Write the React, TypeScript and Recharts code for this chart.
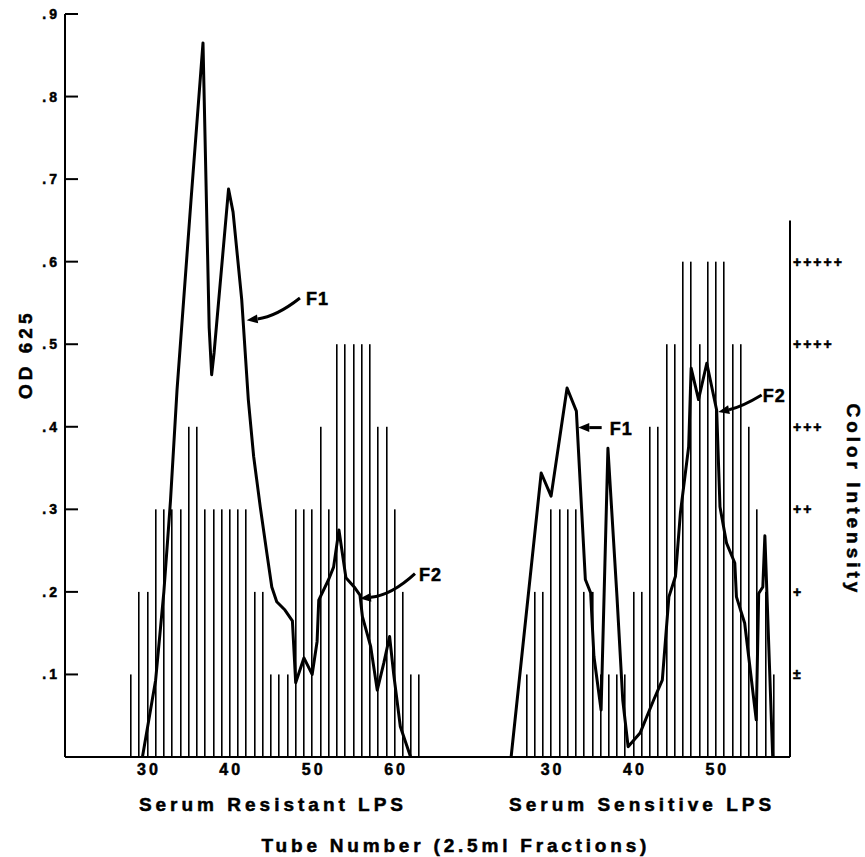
import React from 'react';
import { ComposedChart, Bar, Line, XAxis, YAxis, ReferenceLine } from 'recharts';

const FONT = '"Liberation Sans", Arial, Helvetica, sans-serif';
// right panel tubes are drawn shifted along the shared axis
const PANEL_OFFSET = 49;
const X_DOMAIN = [20, 108];

// colour intensity per tube (1 = ±, 6 = +++++)
const resistantTubes = [28, 29, 30, 31, 32, 33, 34, 35, 36, 37, 38, 39, 40, 41, 42, 43, 44, 45, 46, 47, 48, 49, 50, 51, 52, 53, 54, 55, 56, 57, 58, 59, 60, 61, 62, 63];
const resistantColor = [1, 2, 2, 3, 3, 3, 3, 4, 4, 3, 3, 3, 3, 3, 3, 2, 2, 1, 1, 1, 3, 3, 3, 4, 3, 5, 5, 5, 5, 5, 4, 4, 3, 2, 1, 1];

const sensitiveTubes = [27, 28, 29, 30, 31, 32, 33, 34, 35, 36, 37, 38, 39, 40, 41, 42, 43, 44, 45, 46, 47, 48, 49, 50, 51, 52, 53, 54, 55, 56, 57];
const sensitiveColor = [1, 2, 2, 3, 3, 3, 3, 2, 2, 1, 1, 1, 1, 2, 2, 4, 4, 5, 5, 6, 6, 5, 6, 6, 6, 5, 5, 4, 3, 2, 1];

// OD 625 traces
const resistantOdTube = [29.4, 31.0, 32.0, 32.8, 33.6, 35.3, 36.75, 37.5, 37.8, 38.1, 39.85, 40.4, 41.45, 42.25, 42.9, 43.7, 44.5, 45.1, 45.7, 46.7, 47.6, 48.0, 49.0, 50.0, 50.6, 50.8, 52.0, 52.6, 53.25, 54.1, 55.1, 55.8, 56.1, 57.1, 57.9, 58.7, 59.4, 59.9, 60.7, 61.95];
const resistantOd = [0, 0.093, 0.2, 0.31, 0.445, 0.675, 0.865, 0.52, 0.463, 0.49, 0.688, 0.66, 0.554, 0.433, 0.364, 0.303, 0.247, 0.206, 0.188, 0.178, 0.165, 0.09, 0.12, 0.1, 0.14, 0.19, 0.215, 0.23, 0.275, 0.217, 0.206, 0.196, 0.17, 0.134, 0.081, 0.114, 0.146, 0.1, 0.037, 0];

const sensitiveOdTube = [25.15, 28.8, 30.0, 31.94, 33.07, 34.16, 34.8, 35.2, 36.07, 36.9, 38.0, 38.7, 39.35, 40.8, 42.45, 43.5, 44.3, 45.1, 45.7, 46.7, 47.0, 47.9, 48.9, 50.1, 50.5, 51.3, 52.3, 52.5, 53.5, 54.9, 55.2, 55.7, 55.95, 56.9];
const sensitiveOd = [0, 0.344, 0.316, 0.447, 0.419, 0.215, 0.199, 0.122, 0.057, 0.374, 0.194, 0.069, 0.0125, 0.029, 0.069, 0.093, 0.194, 0.219, 0.296, 0.376, 0.471, 0.433, 0.477, 0.42, 0.303, 0.259, 0.235, 0.194, 0.162, 0.045, 0.198, 0.206, 0.268, 0];

const odTicks = [0.1, 0.2, 0.3, 0.4, 0.5, 0.6, 0.7, 0.8, 0.9];
const colorTicks = [1, 2, 3, 4, 5, 6];
const colorLabels = ['±', '+', '++', '+++', '++++', '+++++'];
const resistantTicks = [30, 40, 50, 60];
const sensitiveTicks = [30, 40, 50];

const barData = [
  ...resistantTubes.map((t, i) => ({ x: t, ci: resistantColor[i] })),
  ...sensitiveTubes.map((t, i) => ({ x: t + PANEL_OFFSET, ci: sensitiveColor[i] })),
];
const resistantLine = resistantOdTube.map((t, i) => ({ x: t, od: resistantOd[i] }));
const sensitiveLine = sensitiveOdTube.map((t, i) => ({ x: t + PANEL_OFFSET, od: sensitiveOd[i] }));
const xTicks = [...resistantTicks, ...sensitiveTicks.map((t) => t + PANEL_OFFSET)];

const bold = { fontFamily: FONT, fontWeight: 'bold' as const, fill: '#000', stroke: '#000', strokeWidth: 0.5 };

const OdTick = (props: any) => {
  const { x, y, payload } = props;
  return (
    <g>
      <line x1={x + 5} x2={x + 18} y1={y} y2={y} stroke="#000" strokeWidth={2} />
      <text x={x} y={y} dy={5} textAnchor="end" fontSize={14} letterSpacing={3} {...bold}>
        {String(payload.value.toFixed(1)).replace('0.', '.')}
      </text>
    </g>
  );
};

const ColorTick = (props: any) => {
  const { x, y, payload } = props;
  return (
    <text x={x} y={y} dy={5} textAnchor="start" fontSize={14} letterSpacing={2} {...bold}>
      {colorLabels[payload.value - 1]}
    </text>
  );
};

const TubeTick = (props: any) => {
  const { x, y, payload } = props;
  const v = payload.value > 70 ? payload.value - PANEL_OFFSET : payload.value;
  return (
    <text x={x} y={y} dx={1.5} dy={18} textAnchor="middle" fontSize={16} letterSpacing={3} {...bold}>
      {v}
    </text>
  );
};

// thin dark rule for each tube's colour reading
const TubeRule = (props: any) => {
  const { x, y, width, height } = props;
  if (!height) return null;
  const cx = x + width / 2;
  return <rect x={Math.round(cx - 0.75)} y={y} width={1.6} height={height} fill="#000" />;
};

const OdTitle = (props: any) => {
  const vb = props.viewBox || { x: 0, y: 14, width: 65, height: 743 };
  const cx = vb.x + 25;
  const cy = vb.y + vb.height * 0.458;
  return (
    <text x={cx} y={cy} transform={`rotate(-90 ${cx} ${cy})`} textAnchor="middle" dy={7} fontSize={19} letterSpacing={4} {...bold}>
      OD 625
    </text>
  );
};

const ColorTitle = (props: any) => {
  const vb = props.viewBox || { x: 790, y: 14, width: 75, height: 743 };
  const cx = vb.x + 64;
  const cy = vb.y + vb.height * 0.654;
  return (
    <text x={cx} y={cy} transform={`rotate(90 ${cx} ${cy})`} textAnchor="middle" dy={7} fontSize={19} letterSpacing={4} {...bold}>
      Color Intensity
    </text>
  );
};

const TubeTitle = (props: any) => {
  const vb = props.viewBox || { x: 65, y: 757, width: 725, height: 100 };
  const px = (t: number) => vb.x + ((t - X_DOMAIN[0]) / (X_DOMAIN[1] - X_DOMAIN[0])) * vb.width;
  return (
    <g>
      <text x={px(45)} y={vb.y + 54} dx={2} textAnchor="middle" fontSize={19} letterSpacing={4} {...bold}>
        Serum Resistant LPS
      </text>
      <text x={px(40.8 + PANEL_OFFSET)} y={vb.y + 54} dx={2} textAnchor="middle" fontSize={19} letterSpacing={4} {...bold}>
        Serum Sensitive LPS
      </text>
      <text x={px(67.2)} y={vb.y + 95} dx={2} textAnchor="middle" fontSize={19} letterSpacing={3.8} {...bold}>
        Tube Number (2.5ml Fractions)
      </text>
    </g>
  );
};

// arrow drawn from the label point (x1,y1) to the tip (x2,y2)
const arrowShape = (label: string, bend: number, gap: number) => (props: any) => {
  const { x1, y1, x2, y2 } = props;
  const dx = x2 - x1;
  const dy = y2 - y1;
  const len = Math.sqrt(dx * dx + dy * dy) || 1;
  const nx = dy / len;
  const ny = -dx / len;
  const cx = (x1 + x2) / 2 + nx * bend * 2;
  const cy = (y1 + y2) / 2 + ny * bend * 2;
  const ax = x2 - cx;
  const ay = y2 - cy;
  const al = Math.sqrt(ax * ax + ay * ay) || 1;
  const ux = ax / al;
  const uy = ay / al;
  const head = 11;
  const half = 4.5;
  const bx = x2 - ux * head;
  const by = y2 - uy * head;
  return (
    <g>
      <path d={`M${x1},${y1} Q${cx},${cy} ${bx},${by}`} fill="none" stroke="#000" strokeWidth={3} />
      <polygon
        points={`${x2},${y2} ${bx - uy * half},${by + ux * half} ${bx + uy * half},${by - ux * half}`}
        fill="#000"
      />
      <text x={x1 + gap} y={y1} dy={7} fontSize={18} letterSpacing={1} {...bold}>
        {label}
      </text>
    </g>
  );
};

export default function App() {
  return (
    <div style={{ position: 'absolute', left: 0, top: 0, background: '#fff' }}>
      <ComposedChart width={865} height={857} data={barData} margin={{ top: 14, right: 0, bottom: 0, left: 0 }}>
        <XAxis
          dataKey="x"
          type="number"
          domain={X_DOMAIN}
          ticks={xTicks}
          axisLine={{ stroke: '#000', strokeWidth: 2 }}
          tickLine={false}
          tickSize={0}
          tickMargin={0}
          tick={TubeTick}
          height={100}
          label={TubeTitle}
        />
        <YAxis
          yAxisId="od"
          orientation="left"
          type="number"
          domain={[0, 0.9]}
          ticks={odTicks}
          width={65}
          axisLine={{ stroke: '#000', strokeWidth: 2 }}
          tickLine={false}
          tickSize={0}
          tickMargin={5}
          tick={OdTick}
          label={OdTitle}
        />
        <YAxis
          yAxisId="ci"
          orientation="right"
          type="number"
          domain={[0, 9]}
          ticks={colorTicks}
          width={75}
          axisLine={false}
          tickLine={false}
          tickSize={0}
          tickMargin={3}
          tick={ColorTick}
          label={ColorTitle}
        />
        <Bar dataKey="ci" yAxisId="ci" barSize={2} fill="#000" shape={TubeRule} isAnimationActive={false} />
        <Line
          data={resistantLine}
          dataKey="od"
          yAxisId="od"
          type="linear"
          stroke="#000"
          strokeWidth={3}
          strokeLinejoin="round"
          dot={false}
          activeDot={false}
          isAnimationActive={false}
        />
        <Line
          data={sensitiveLine}
          dataKey="od"
          yAxisId="od"
          type="linear"
          stroke="#000"
          strokeWidth={3}
          strokeLinejoin="round"
          dot={false}
          activeDot={false}
          isAnimationActive={false}
        />
        <ReferenceLine
          yAxisId="ci"
          ifOverflow="visible"
          segment={[{ x: X_DOMAIN[1], y: 0 }, { x: X_DOMAIN[1], y: 6.5 }]}
          stroke="#000"
          strokeWidth={2}
        />
        <ReferenceLine
          yAxisId="od"
          ifOverflow="visible"
          segment={[{ x: 48.52, y: 0.556 }, { x: 42.05, y: 0.529 }]}
          shape={arrowShape('F1', 4, 6)}
        />
        <ReferenceLine
          yAxisId="od"
          ifOverflow="visible"
          segment={[{ x: 62.48, y: 0.222 }, { x: 55.8, y: 0.192 }]}
          shape={arrowShape('F2', 5, 4)}
        />
        <ReferenceLine
          yAxisId="od"
          ifOverflow="visible"
          segment={[{ x: 85.14, y: 0.399 }, { x: 82.3, y: 0.399 }]}
          shape={arrowShape('F1', 0, 8)}
        />
        <ReferenceLine
          yAxisId="od"
          ifOverflow="visible"
          segment={[{ x: 104.56, y: 0.4385 }, { x: 99.29, y: 0.418 }]}
          shape={arrowShape('F2', 2, 1)}
        />
      </ComposedChart>
    </div>
  );
}
